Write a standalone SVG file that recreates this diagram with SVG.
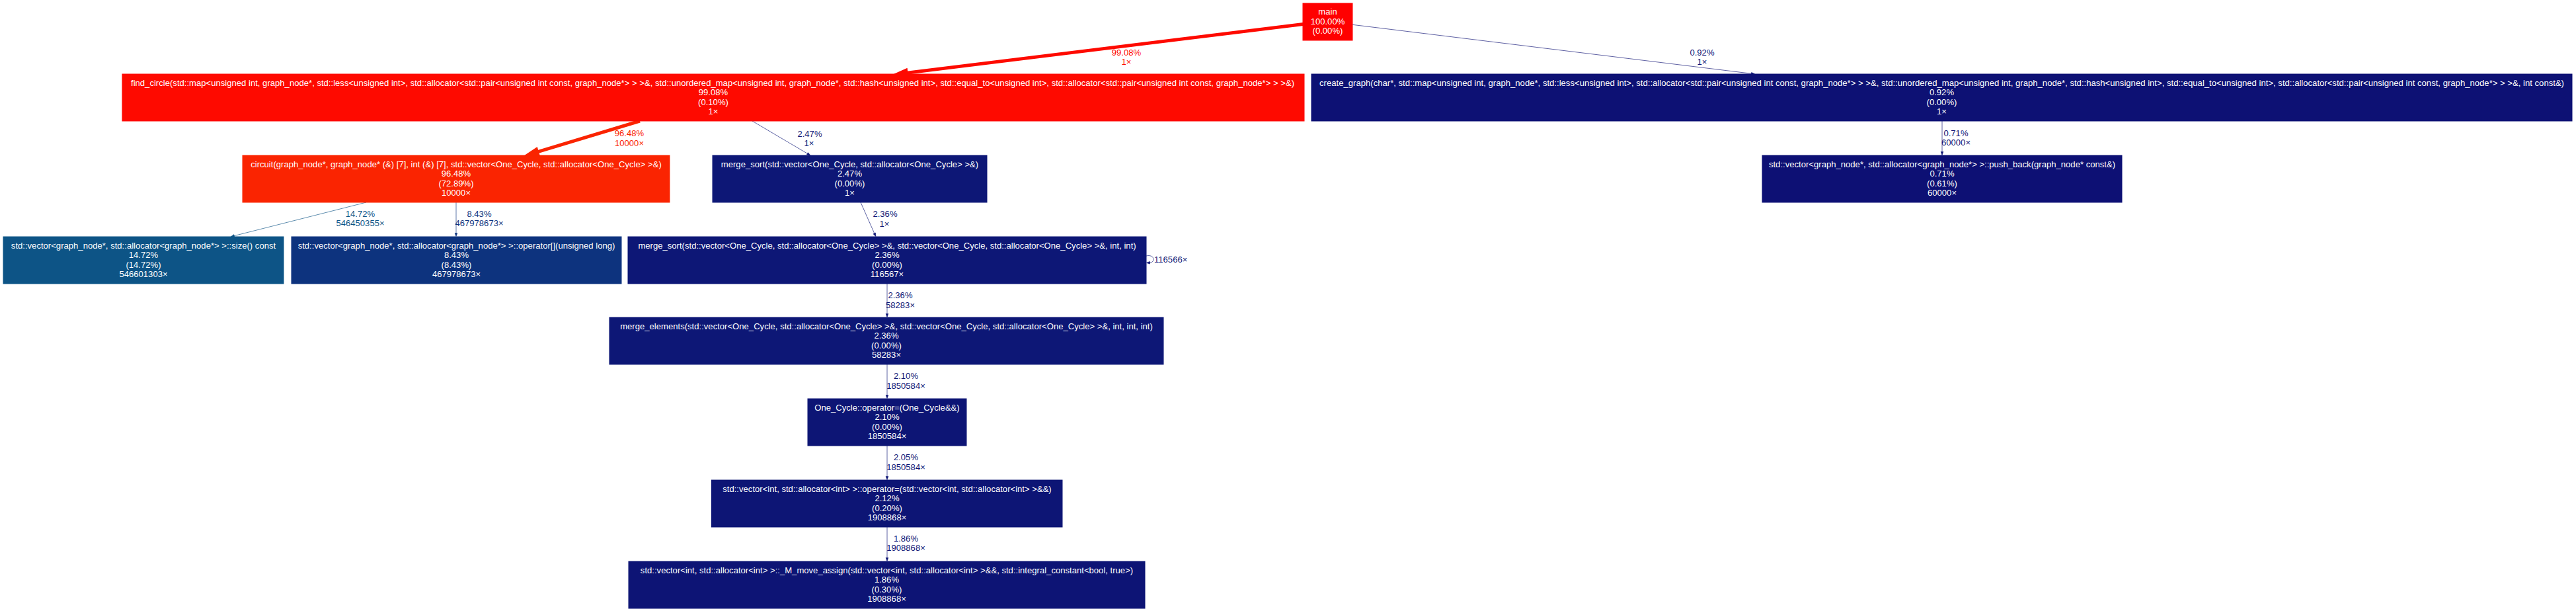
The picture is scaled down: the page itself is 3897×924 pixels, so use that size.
<svg xmlns="http://www.w3.org/2000/svg" width="3897" height="924" viewBox="0 0 3897 924">
<style>
text { font-family: "Liberation Sans", Arial, sans-serif; font-size: 13.1px; text-anchor: middle; }
.node text { fill: #ffffff; }
.node rect { stroke-width: 1; }
.edges path { fill: none; }
.thick { stroke-width: 5; }
.thin { stroke-width: 0.67; }
</style>
<defs>
<marker id="mR1" markerUnits="userSpaceOnUse" orient="auto" markerWidth="30" markerHeight="30" refX="0" refY="0" viewBox="-5 -15 30 30" overflow="visible"><path d="M0,-5.5 L18,0 L0,5.5 z" fill="#fe0a00" stroke="#fe0a00" stroke-width="3" stroke-linejoin="miter"/></marker>
<marker id="mR2" markerUnits="userSpaceOnUse" orient="auto" markerWidth="30" markerHeight="30" refX="0" refY="0" viewBox="-5 -15 30 30" overflow="visible"><path d="M0,-5.5 L18,0 L0,5.5 z" fill="#fa2401" stroke="#fa2401" stroke-width="3" stroke-linejoin="miter"/></marker>
<marker id="mN" markerUnits="userSpaceOnUse" orient="auto" markerWidth="10" markerHeight="10" refX="0" refY="0" viewBox="-2 -5 10 10" overflow="visible"><path d="M0,-1.8 L5,0 L0,1.8 z" fill="#0d1575" stroke="#0d1575" stroke-width="0.67"/></marker>
<marker id="mT" markerUnits="userSpaceOnUse" orient="auto" markerWidth="10" markerHeight="10" refX="0" refY="0" viewBox="-2 -5 10 10" overflow="visible"><path d="M0,-1.9 L5.2,0 L0,1.9 z" fill="#0d5486" stroke="#0d5486" stroke-width="0.7"/></marker>
<marker id="mB" markerUnits="userSpaceOnUse" orient="auto" markerWidth="10" markerHeight="10" refX="0" refY="0" viewBox="-2 -5 10 10" overflow="visible"><path d="M0,-1.8 L5,0 L0,1.8 z" fill="#0d337e" stroke="#0d337e" stroke-width="0.67"/></marker>
</defs>
<rect x="0" y="0" width="3897" height="924" fill="#ffffff"/>

<g id="edges" class="edges">
  <!-- main -> find_circle -->
  <path class="thick" d="M1971.5,36.5 L1372,110.3" stroke="#fe0a00" marker-end="url(#mR1)"/>
  <text x="1704" y="83.5" fill="#fe0a00">99.08%</text>
  <text x="1704" y="97.5" fill="#fe0a00">1×</text>
  <!-- main -> create_graph -->
  <path class="thin" d="M2046,37.3 L2649.5,111.3" stroke="#0d1174" marker-end="url(#mN)"/>
  <text x="2575" y="83.5" fill="#0d1174">0.92%</text>
  <text x="2575" y="97.5" fill="#0d1174">1×</text>
  <!-- find_circle -> circuit -->
  <path class="thick" d="M968,183 L813.5,229.6" stroke="#fa2401" marker-end="url(#mR2)"/>
  <text x="952" y="206" fill="#fa2401">96.48%</text>
  <text x="952" y="220.5" fill="#fa2401">10000×</text>
  <!-- find_circle -> merge_sort -->
  <path class="thin" d="M1138,183 L1221.5,232.3" stroke="#0d1776" marker-end="url(#mN)"/>
  <text x="1225" y="206.5" fill="#0d1776">2.47%</text>
  <text x="1224" y="221" fill="#0d1776">1×</text>
  <!-- create_graph -> push_back -->
  <path class="thin" d="M2938,183 L2938,229.5" stroke="#0d1074" marker-end="url(#mN)"/>
  <text x="2959" y="205.5" fill="#0d1074">0.71%</text>
  <text x="2959" y="220" fill="#0d1074">60000×</text>
  <!-- circuit -> size -->
  <path class="thin" d="M554,306 L354.3,356.6" stroke="#0d5486" stroke-width="0.8" marker-end="url(#mT)"/>
  <text x="545" y="327.5" fill="#0d5486">14.72%</text>
  <text x="545" y="342" fill="#0d5486">546450355×</text>
  <!-- circuit -> operator[] -->
  <path class="thin" d="M690,306 L690,352.5" stroke="#0d337e" marker-end="url(#mB)"/>
  <text x="725" y="327.5" fill="#0d337e">8.43%</text>
  <text x="725" y="342" fill="#0d337e">467978673×</text>
  <!-- merge_sort -> merge_sort2 -->
  <path class="thin" d="M1302,306 L1322.8,353" stroke="#0d1776" marker-end="url(#mN)"/>
  <text x="1339" y="328" fill="#0d1776">2.36%</text>
  <text x="1338" y="342.5" fill="#0d1776">1×</text>
  <!-- merge_sort2 self loop -->
  <path class="thin" d="M1734,387 C1747,384 1748,397 1739.5,397.3" stroke="#0d1776" marker-end="url(#mN)"/>
  <text x="1746" y="397" fill="#0d1776" style="text-anchor:start">116566×</text>
  <!-- merge_sort2 -> merge_elements -->
  <path class="thin" d="M1342,429 L1342,474.5" stroke="#0d1776" marker-end="url(#mN)"/>
  <text x="1362" y="451" fill="#0d1776">2.36%</text>
  <text x="1362" y="465.5" fill="#0d1776">58283×</text>
  <!-- merge_elements -> One_Cycle -->
  <path class="thin" d="M1342,551 L1342,597.5" stroke="#0d1575" marker-end="url(#mN)"/>
  <text x="1370.5" y="573" fill="#0d1575">2.10%</text>
  <text x="1370.5" y="587.5" fill="#0d1575">1850584×</text>
  <!-- One_Cycle -> vector operator= -->
  <path class="thin" d="M1342,674 L1342,720.5" stroke="#0d1575" marker-end="url(#mN)"/>
  <text x="1370.5" y="696" fill="#0d1575">2.05%</text>
  <text x="1370.5" y="710.5" fill="#0d1575">1850584×</text>
  <!-- vector operator= -> _M_move_assign -->
  <path class="thin" d="M1342,797 L1342,843.5" stroke="#0d1475" marker-end="url(#mN)"/>
  <text x="1370.5" y="818.5" fill="#0d1475">1.86%</text>
  <text x="1370.5" y="833" fill="#0d1475">1908868×</text>
</g>

<g id="main" class="node">
  <rect x="1971" y="5" width="75" height="56" fill="#ff0000" stroke="#ff0000"/>
  <text x="2008.5" y="22">main</text>
  <text x="2008.5" y="36.5">100.00%</text>
  <text x="2008.5" y="51">(0.00%)</text>
</g>

<g id="find_circle" class="node">
  <rect x="185" y="112" width="1788" height="71" fill="#fe0a00" stroke="#fe0a00"/>
  <text x="1078" y="129.5" textLength="1760" lengthAdjust="spacingAndGlyphs">find_circle(std::map&lt;unsigned int, graph_node*, std::less&lt;unsigned int&gt;, std::allocator&lt;std::pair&lt;unsigned int const, graph_node*&gt; &gt; &gt;&amp;, std::unordered_map&lt;unsigned int, graph_node*, std::hash&lt;unsigned int&gt;, std::equal_to&lt;unsigned int&gt;, std::allocator&lt;std::pair&lt;unsigned int const, graph_node*&gt; &gt; &gt;&amp;)</text>
  <text x="1079" y="144">99.08%</text>
  <text x="1079" y="158.5">(0.10%)</text>
  <text x="1079" y="173">1×</text>
</g>

<g id="create_graph" class="node">
  <rect x="1984" y="112" width="1907" height="71" fill="#0d1174" stroke="#0d1174"/>
  <text x="2937.5" y="129.5" textLength="1883" lengthAdjust="spacingAndGlyphs">create_graph(char*, std::map&lt;unsigned int, graph_node*, std::less&lt;unsigned int&gt;, std::allocator&lt;std::pair&lt;unsigned int const, graph_node*&gt; &gt; &gt;&amp;, std::unordered_map&lt;unsigned int, graph_node*, std::hash&lt;unsigned int&gt;, std::equal_to&lt;unsigned int&gt;, std::allocator&lt;std::pair&lt;unsigned int const, graph_node*&gt; &gt; &gt;&amp;, int const&amp;)</text>
  <text x="2937.5" y="144">0.92%</text>
  <text x="2937.5" y="158.5">(0.00%)</text>
  <text x="2937.5" y="173">1×</text>
</g>

<g id="circuit" class="node">
  <rect x="367" y="235" width="646" height="71" fill="#fa2401" stroke="#fa2401"/>
  <text x="690" y="252.5">circuit(graph_node*, graph_node* (&amp;) [7], int (&amp;) [7], std::vector&lt;One_Cycle, std::allocator&lt;One_Cycle&gt; &gt;&amp;)</text>
  <text x="690" y="267">96.48%</text>
  <text x="690" y="281.5">(72.89%)</text>
  <text x="690" y="296">10000×</text>
</g>

<g id="merge_sort" class="node">
  <rect x="1078" y="235" width="415" height="71" fill="#0d1776" stroke="#0d1776"/>
  <text x="1285.5" y="252.5">merge_sort(std::vector&lt;One_Cycle, std::allocator&lt;One_Cycle&gt; &gt;&amp;)</text>
  <text x="1285.5" y="267">2.47%</text>
  <text x="1285.5" y="281.5">(0.00%)</text>
  <text x="1285.5" y="296">1×</text>
</g>

<g id="push_back" class="node">
  <rect x="2666" y="235" width="544" height="71" fill="#0d1074" stroke="#0d1074"/>
  <text x="2938" y="252.5">std::vector&lt;graph_node*, std::allocator&lt;graph_node*&gt; &gt;::push_back(graph_node* const&amp;)</text>
  <text x="2938" y="267">0.71%</text>
  <text x="2938" y="281.5">(0.61%)</text>
  <text x="2938" y="296">60000×</text>
</g>

<g id="size" class="node">
  <rect x="5" y="358" width="424" height="71" fill="#0d5486" stroke="#0d5486"/>
  <text x="217" y="375.5">std::vector&lt;graph_node*, std::allocator&lt;graph_node*&gt; &gt;::size() const</text>
  <text x="217" y="390">14.72%</text>
  <text x="217" y="404.5">(14.72%)</text>
  <text x="217" y="419">546601303×</text>
</g>

<g id="operator_index" class="node">
  <rect x="441" y="358" width="499" height="71" fill="#0d337e" stroke="#0d337e"/>
  <text x="690.5" y="375.5">std::vector&lt;graph_node*, std::allocator&lt;graph_node*&gt; &gt;::operator[](unsigned long)</text>
  <text x="690.5" y="390">8.43%</text>
  <text x="690.5" y="404.5">(8.43%)</text>
  <text x="690.5" y="419">467978673×</text>
</g>

<g id="merge_sort2" class="node">
  <rect x="950" y="358" width="784" height="71" fill="#0d1776" stroke="#0d1776"/>
  <text x="1342" y="375.5">merge_sort(std::vector&lt;One_Cycle, std::allocator&lt;One_Cycle&gt; &gt;&amp;, std::vector&lt;One_Cycle, std::allocator&lt;One_Cycle&gt; &gt;&amp;, int, int)</text>
  <text x="1342" y="390">2.36%</text>
  <text x="1342" y="404.5">(0.00%)</text>
  <text x="1342" y="419">116567×</text>
</g>

<g id="merge_elements" class="node">
  <rect x="922" y="480" width="838" height="71" fill="#0d1776" stroke="#0d1776"/>
  <text x="1341" y="497.5">merge_elements(std::vector&lt;One_Cycle, std::allocator&lt;One_Cycle&gt; &gt;&amp;, std::vector&lt;One_Cycle, std::allocator&lt;One_Cycle&gt; &gt;&amp;, int, int, int)</text>
  <text x="1341" y="512">2.36%</text>
  <text x="1341" y="526.5">(0.00%)</text>
  <text x="1341" y="541">58283×</text>
</g>

<g id="one_cycle_assign" class="node">
  <rect x="1222" y="603" width="240" height="71" fill="#0d1575" stroke="#0d1575"/>
  <text x="1342" y="620.5">One_Cycle::operator=(One_Cycle&amp;&amp;)</text>
  <text x="1342" y="635">2.10%</text>
  <text x="1342" y="649.5">(0.00%)</text>
  <text x="1342" y="664">1850584×</text>
</g>

<g id="vector_assign" class="node">
  <rect x="1076.5" y="726" width="530.5" height="71" fill="#0d1575" stroke="#0d1575"/>
  <text x="1342" y="743.5">std::vector&lt;int, std::allocator&lt;int&gt; &gt;::operator=(std::vector&lt;int, std::allocator&lt;int&gt; &gt;&amp;&amp;)</text>
  <text x="1342" y="758">2.12%</text>
  <text x="1342" y="772.5">(0.20%)</text>
  <text x="1342" y="787">1908868×</text>
</g>

<g id="move_assign" class="node">
  <rect x="951" y="849" width="781" height="71" fill="#0d1475" stroke="#0d1475"/>
  <text x="1341.5" y="866.5">std::vector&lt;int, std::allocator&lt;int&gt; &gt;::_M_move_assign(std::vector&lt;int, std::allocator&lt;int&gt; &gt;&amp;&amp;, std::integral_constant&lt;bool, true&gt;)</text>
  <text x="1341.5" y="881">1.86%</text>
  <text x="1341.5" y="895.5">(0.30%)</text>
  <text x="1341.5" y="910">1908868×</text>
</g>
</svg>
